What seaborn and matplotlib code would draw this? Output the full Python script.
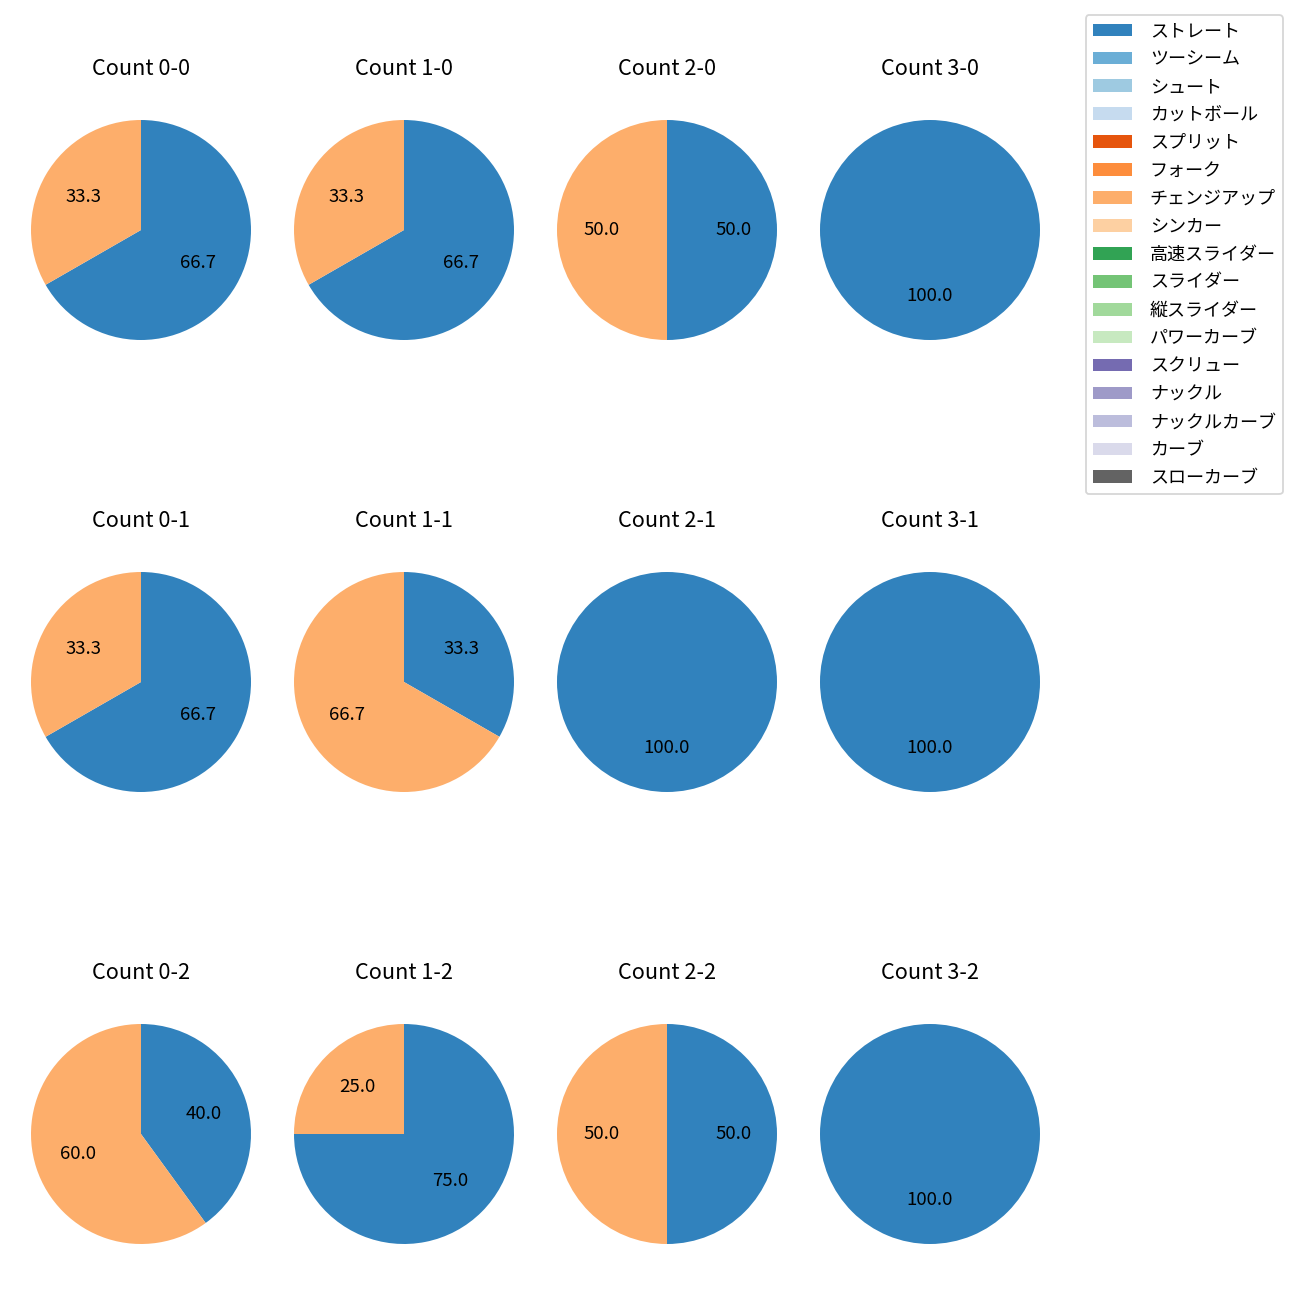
import matplotlib
matplotlib.use("Agg")
import matplotlib.pyplot as plt
import seaborn as sns
from matplotlib.patches import Patch

# ===========================
# Data
# ===========================

pitch_types = [
    "ストレート", "ツーシーム", "シュート", "カットボール",
    "スプリット", "フォーク", "チェンジアップ", "シンカー",
    "高速スライダー", "スライダー", "縦スライダー", "パワーカーブ",
    "スクリュー", "ナックル", "ナックルカーブ", "カーブ", "スローカーブ",
]

balls = [0, 1, 2, 3]
strikes = [0, 1, 2]

# share (%) per count: ストレート, チェンジアップ
straight_pct = [
    [66.7, 66.7, 50.0, 100.0],
    [66.7, 33.3, 100.0, 100.0],
    [40.0, 75.0, 50.0, 100.0],
]
changeup_pct = [
    [33.3, 33.3, 50.0, 0.0],
    [33.3, 66.7, 0.0, 0.0],
    [60.0, 25.0, 50.0, 0.0],
]

# ===========================
# Plot
# ===========================

plt.rcParams["font.family"] = ["Noto Sans CJK JP", "DejaVu Sans"]

palette = sns.color_palette("tab20c", 20)[:len(pitch_types)]
color_map = dict(zip(pitch_types, palette))

fig = plt.figure(figsize=(10, 10), dpi=130)

col_x = [141, 404, 667, 930]
row_y = [230, 682, 1134]
side = 275

for r, s in enumerate(strikes):
    for c, b in enumerate(balls):
        cx, cy = col_x[c], row_y[r]
        ax = fig.add_axes([(cx - side / 2) / 1300, 1 - (cy + side / 2) / 1300,
                           side / 1300, side / 1300])
        vals, cols = [], []
        for name, v in [("ストレート", straight_pct[r][c]),
                        ("チェンジアップ", changeup_pct[r][c])]:
            if v > 0:
                vals.append(v)
                cols.append(color_map[name])
        ax.pie(vals, colors=cols, autopct="%.1f", startangle=90,
               counterclock=False, textprops={"fontsize": 10.3})
        ax.set_title(f"Count {b}-{s}", fontsize=12, pad=9.5)

handles = [Patch(facecolor=color_map[p], label=p) for p in pitch_types]
fig.legend(handles=handles, loc="upper right",
           bbox_to_anchor=(1283 / 1300, 1 - 15 / 1300), borderaxespad=0,
           fontsize=10, labelspacing=0.55, handlelength=2.15,
           handletextpad=1.0)

fig.savefig("out.png", dpi=130)
